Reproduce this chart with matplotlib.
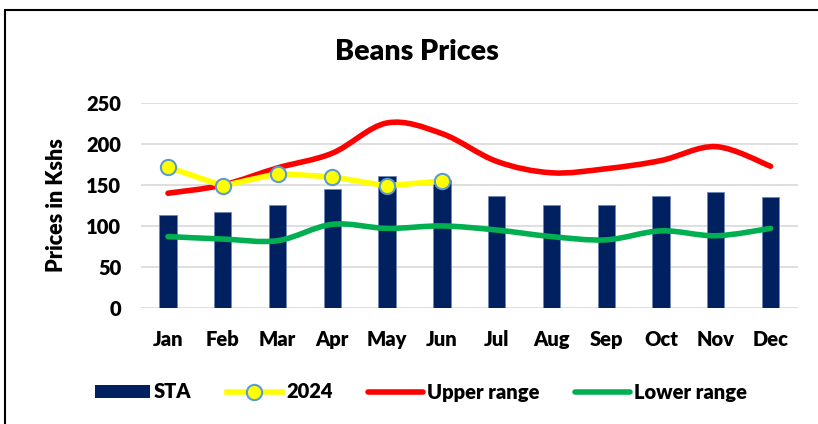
import numpy as np
import matplotlib
matplotlib.use("Agg")
import matplotlib.pyplot as plt
from matplotlib.path import Path
from matplotlib.patches import PathPatch, Rectangle
from matplotlib.lines import Line2D

plt.rcParams['font.family'] = ['Lato', 'DejaVu Sans']
plt.rcParams['font.weight'] = 'heavy'

months = ["Jan", "Feb", "Mar", "Apr", "May", "Jun", "Jul", "Aug", "Sep", "Oct", "Nov", "Dec"]
sta = [113, 117, 126, 145, 161, 156, 137, 126, 126, 137, 142, 135]
prices_2024 = [172, 149, 164, 160, 149, 155]
upper = [140, 150, 171, 189, 226, 213, 179, 165, 170, 180, 197, 173]
lower = [87, 84, 82, 102, 97, 100, 95, 87, 83, 94, 88, 97]
yticks = [0, 50, 100, 150, 200, 250]

FW = 'heavy'
FS = 14.5

def smooth_path(xs, ys):
    xs = np.asarray(xs, float); ys = np.asarray(ys, float)
    P = np.column_stack([xs, ys])
    n = len(P)
    verts = [P[0]]; codes = [Path.MOVETO]
    for i in range(n - 1):
        p0 = P[i - 1] if i > 0 else P[i]
        p1 = P[i]; p2 = P[i + 1]
        p3 = P[i + 2] if i + 2 < n else P[i + 1]
        c1 = p1 + (p2 - p0) / 6.0
        c2 = p2 - (p3 - p1) / 6.0
        verts += [c1, c2, p2]
        codes += [Path.CURVE4] * 3
    return Path(verts, codes)

W, H = 818, 424
fig = plt.figure(figsize=(W / 100, H / 100), dpi=100)
left, right, bottom, top = 140.6, 798, 307.7, 103.3
ax = fig.add_axes([left / W, 1 - bottom / H, (right - left) / W, (bottom - top) / H])

x = np.arange(len(months))
ax.set_xlim(-0.5, 11.5)
ax.set_ylim(0, 250)
for s in ax.spines.values():
    s.set_visible(False)
ax.set_yticks(yticks)
ax.yaxis.grid(True, color='#d9d9d9', lw=1.2)
ax.set_axisbelow(True)
ax.tick_params(length=0, labelsize=FS)
ax.tick_params(axis='y', pad=14)
ax.tick_params(axis='x', pad=16)
ax.set_xticks(x)
ax.set_xticklabels(months, fontweight=FW)
ax.set_yticklabels([str(v) for v in yticks], fontweight=FW)

ax.bar(x, sta, width=0.316, color='#002060', edgecolor='#6f86b5', linewidth=0.6, zorder=2)

ax.add_patch(PathPatch(smooth_path(x, upper), fill=False, edgecolor='#ff0000', lw=4, capstyle='round', zorder=3))
ax.add_patch(PathPatch(smooth_path(x, lower), fill=False, edgecolor='#00b050', lw=4, capstyle='round', zorder=3))
ax.plot(x[:len(prices_2024)], prices_2024, color='#ffff00', lw=4, marker='o', ms=11,
        mfc='#ffff00', mec='#5b9bd5', mew=1.5, zorder=4, solid_capstyle='round')

ax.set_ylabel("Prices in Kshs", fontsize=15.5, fontweight=FW)
ax.yaxis.set_label_coords(-0.112, 0.5)

fig.text(0.51, 1 - 52 / H, "Beans Prices", ha='center', va='center', fontsize=20.5, fontweight=FW)

handles = [
    Rectangle((0, 0), 1, 1, facecolor='#002060'),
    Line2D([], [], color='#ffff00', lw=4, marker='o', ms=11, mfc='#ffff00', mec='#5b9bd5', mew=1.5),
    Line2D([], [], color='#ff0000', lw=4, solid_capstyle='round'),
    Line2D([], [], color='#00b050', lw=4, solid_capstyle='round'),
]
fig.legend(handles, ["STA", "2024", "Upper range", "Lower range"], loc='center',
           bbox_to_anchor=(421 / W, 1 - 392 / H), ncol=4, frameon=False,
           prop={'size': FS, 'weight': FW}, handlelength=2.75, handleheight=0.6,
           handletextpad=0.2, columnspacing=1.75, numpoints=1)

fig.add_artist(Rectangle((5 / W, -0.05), 1.0, 1 - 10 / H + 0.05, transform=fig.transFigure,
                         fill=False, edgecolor='black', lw=1.5, clip_on=False))

fig.savefig("out.png", dpi=100, facecolor='white')
